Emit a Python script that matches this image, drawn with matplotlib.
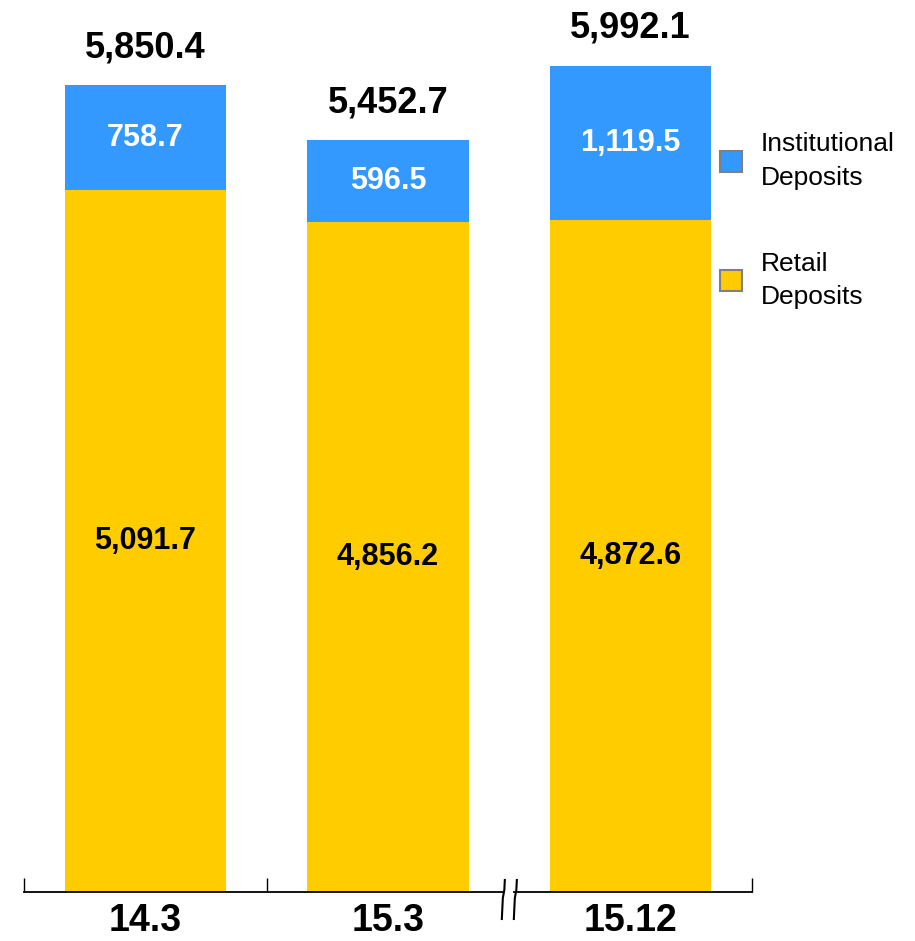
import matplotlib
matplotlib.use("Agg")
import matplotlib.pyplot as plt
from matplotlib.patches import Patch
from matplotlib.transforms import blended_transform_factory

plt.rcParams['font.family'] = ['Liberation Sans', 'DejaVu Sans']

categories = ["14.3", "15.3", "15.12"]
retail = [5091.7, 4856.2, 4872.6]
institutional = [758.7, 596.5, 1119.5]
totals = [5850.4, 5452.7, 5992.1]
retail_labels = ["5,091.7", "4,856.2", "4,872.6"]
inst_labels = ["758.7", "596.5", "1,119.5"]
total_labels = ["5,850.4", "5,452.7", "5,992.1"]

BLUE = "#3399FF"
YELLOW = "#FFCC00"

W, H = 915, 941
fig = plt.figure(figsize=(W / 100, H / 100), dpi=100)
ax = fig.add_axes([24 / W, (H - 892) / H, 728 / W, 892 / H])

x = list(range(len(categories)))
bw = 0.664
ax.bar(x, retail, width=bw, color=YELLOW, label="Retail\nDeposits", zorder=2)
ax.bar(x, institutional, width=bw, bottom=retail, color=BLUE,
       label="Institutional\nDeposits", zorder=2)

for i in x:
    ax.text(i, retail[i] / 2, retail_labels[i], ha="center", va="center",
            fontsize=22, fontweight="bold", color="black")
    ax.text(i, retail[i] + institutional[i] / 2, inst_labels[i], ha="center",
            va="center", fontsize=22, fontweight="bold", color="white")
    ax.annotate(total_labels[i], (i, totals[i]), xytext=(0, 27),
                textcoords="offset points", ha="center", va="center",
                fontsize=26, fontweight="bold", color="black")

ax.set_xlim(-0.5, 2.5)
ax.set_ylim(0, 6470)
for s in ["top", "right", "left"]:
    ax.spines[s].set_visible(False)
ax.spines["bottom"].set_linewidth(1.3)
ax.set_yticks([])
ax.set_xticks(x)
ax.set_xticklabels(categories, fontsize=27, fontweight="bold")
ax.tick_params(axis="x", which="major", length=0, pad=8)
ax.set_xticks([-0.5, 0.5, 2.5], minor=True)
ax.tick_params(axis="x", which="minor", direction="in", length=10, width=1)

# axis break
tr = blended_transform_factory(ax.transData, ax.transAxes)
px = 1 / 242.5
py = 1 / 892
ax.plot([1.5 - 3 * px, 1.5 + 2 * px], [0, 0], color="white", lw=3,
        transform=tr, clip_on=False, zorder=5)
for dx in (-6 * px, 6 * px):
    xs = [1.5 + dx + 1.5 * px, 1.5 + dx + 1.0 * px, 1.5 + dx - 0.5 * px, 1.5 + dx - 1.5 * px]
    ys = [12 * py, 2 * py, -6 * py, -27 * py]
    ax.plot(xs, ys, color="black", lw=1.5, transform=tr, clip_on=False, zorder=6)

handles = [Patch(facecolor=BLUE, edgecolor="#808080", linewidth=1.5),
           Patch(facecolor=YELLOW, edgecolor="#808080", linewidth=1.5)]
leg = fig.legend(handles, ["Institutional\nDeposits", "Retail\nDeposits"],
                 loc="upper left", bbox_to_anchor=(720 / W, 1 - 132 / H),
                 frameon=False, fontsize=19, handlelength=0.85, handleheight=0.85,
                 handletextpad=0.7, labelspacing=2.35, borderpad=0, borderaxespad=0)
for t in leg.get_texts():
    t.set_linespacing(1.5)

fig.savefig("out.png", dpi=100)
